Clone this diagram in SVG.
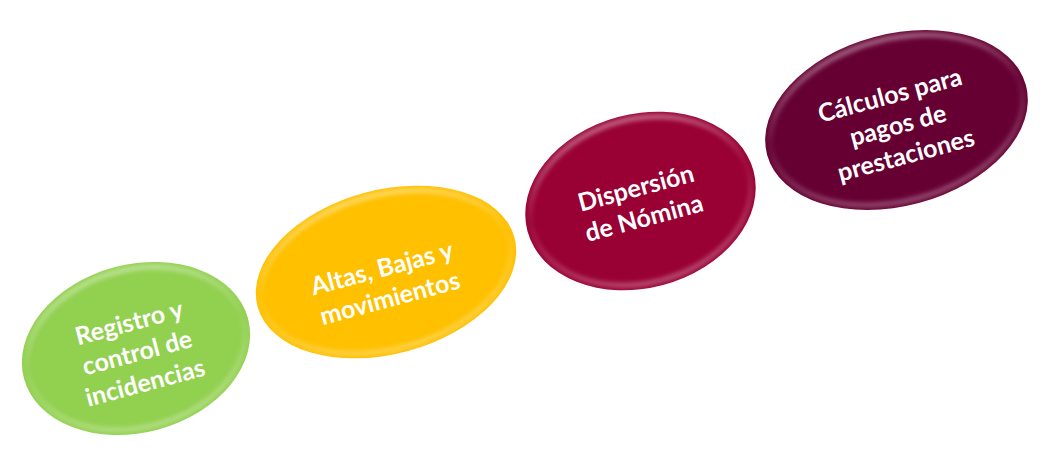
<svg xmlns="http://www.w3.org/2000/svg" width="1050" height="464" viewBox="0 0 1050 464">
  <style>
    .lbl { font-family: Lato, "Open Sans", "Liberation Sans", sans-serif; font-weight: bold; font-size: 25px; fill: #ffffff; text-anchor: middle; }
    .rim { fill: none; stroke: url(#rimGrad); stroke-width: 5; filter: url(#soft); }
  </style>
  <defs>
    <linearGradient id="rimGrad" x1="0" y1="0" x2="0" y2="1">
      <stop offset="0" stop-color="#ffffff" stop-opacity="0.4"/>
      <stop offset="0.45" stop-color="#ffffff" stop-opacity="0.05"/>
      <stop offset="1" stop-color="#ffffff" stop-opacity="0.3"/>
    </linearGradient>
    <filter id="soft" x="-10%" y="-10%" width="120%" height="120%">
      <feGaussianBlur stdDeviation="2"/>
    </filter>
  </defs>

  <g id="node-registro" transform="translate(136,348.5) rotate(-15)">
    <ellipse rx="116" ry="84" fill="#92D050"/>
    <ellipse class="rim" rx="111" ry="79"/>
    <text class="lbl"><tspan x="0" y="-18">Registro y</tspan><tspan x="0" y="13">control de</tspan><tspan x="0" y="44">incidencias</tspan></text>
  </g>

  <g id="node-altas" transform="translate(386,272) rotate(-15)">
    <ellipse rx="133" ry="82" fill="#FFC000"/>
    <ellipse class="rim" rx="128" ry="77"/>
    <text class="lbl"><tspan x="-3" y="4">Altas, Bajas y</tspan><tspan x="-3" y="35">movimientos</tspan></text>
  </g>

  <g id="node-dispersion" transform="translate(640.5,201) rotate(-15)">
    <ellipse rx="117" ry="87" fill="#990033"/>
    <ellipse class="rim" rx="112" ry="82"/>
    <text class="lbl"><tspan x="-1" y="-5">Dispersión</tspan><tspan x="-1" y="26">de Nómina</tspan></text>
  </g>

  <g id="node-calculos" transform="translate(896.5,120) rotate(-15)">
    <ellipse rx="134" ry="86" fill="#660033"/>
    <ellipse class="rim" rx="129" ry="81"/>
    <text class="lbl"><tspan x="0" y="-17">Cálculos para</tspan><tspan x="0" y="14">pagos de</tspan><tspan x="0" y="45">prestaciones</tspan></text>
  </g>

  <g id="connectors"></g>
</svg>
